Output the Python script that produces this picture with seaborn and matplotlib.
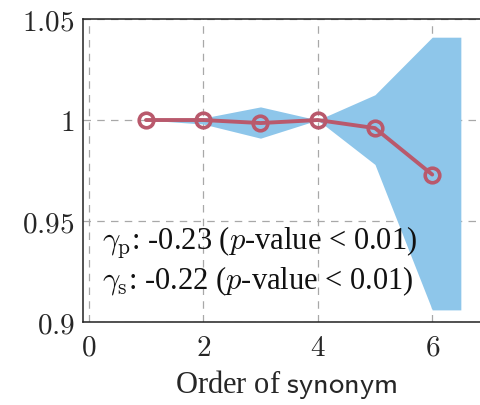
import matplotlib
matplotlib.use("Agg")
import matplotlib.pyplot as plt
import seaborn as sns
import pandas as pd

# Relative score by synonym order
order = [1, 2, 3, 4, 5, 6]
score = [1.000, 1.000, 0.9985, 1.000, 0.996, 0.973]

# Spread band around the scores
band_x = [0.5, 1, 2, 3, 4, 5, 6, 6.5]
band_low = [1.000, 1.000, 0.998, 0.991, 1.000, 0.978, 0.906, 0.906]
band_high = [1.000, 1.000, 1.001, 1.0065, 1.000, 1.0125, 1.041, 1.041]

y_ticks = [0.9, 0.95, 1.0, 1.05]
y_tick_labels = ["0.9", "0.95", "1", "1.05"]
x_ticks = [0, 2, 4, 6]
x_tick_labels = ["0", "2", "4", "6"]

stats_lines = [
    r"$\gamma_\mathrm{p}$: -0.23 ($p$-value < 0.01)",
    r"$\gamma_\mathrm{s}$: -0.22 ($p$-value < 0.01)",
]

sns.set_style("white")
plt.rcParams["font.family"] = ["Liberation Serif", "DejaVu Serif"]
plt.rcParams["mathtext.fontset"] = "cm"

fig = plt.figure(figsize=(4.81, 4.06), dpi=100)
ax = fig.add_axes([0.1726, 0.2044, 0.845, 0.7463])

df = pd.DataFrame({"order": order, "score": score})

ax.fill_between(band_x, band_low, band_high, color="#8ec6ea", lw=0, zorder=1)
sns.lineplot(data=df, x="order", y="score", ax=ax, color="#b9596c", lw=2.8,
             marker="o", markersize=10.5, markerfacecolor="none",
             markeredgecolor="#b9596c", markeredgewidth=2.6, zorder=3)

ax.set_xlim(-0.1, 7.0)
ax.set_ylim(0.9, 1.05)
ax.set_xticks(x_ticks)
ax.set_xticklabels([f"${t}$" for t in x_tick_labels], fontsize=21)
ax.set_yticks(y_ticks)
ax.set_yticklabels([f"${t}$" for t in y_tick_labels], fontsize=21)
ax.tick_params(axis="both", direction="in", length=4, width=0.8,
               color="#888888")
ax.tick_params(axis="x", pad=9)
ax.tick_params(axis="y", pad=6)
ax.grid(True, color="#a8a8a8", linestyle=(0, (6, 5)), linewidth=0.9, zorder=0)
ax.set_axisbelow(True)
for s in ax.spines.values():
    s.set_color("#222222")
    s.set_linewidth(1.1)

ax.set_xlabel(r"Order of $\mathsf{synonym}$", fontsize=22, labelpad=5)
ax.set_ylabel("")

for i, line in enumerate(stats_lines):
    ax.text(0.23, 0.9366 - i * 0.0198, line, fontsize=22, color="#111111",
            zorder=4)

fig.savefig("out.png", dpi=100)
